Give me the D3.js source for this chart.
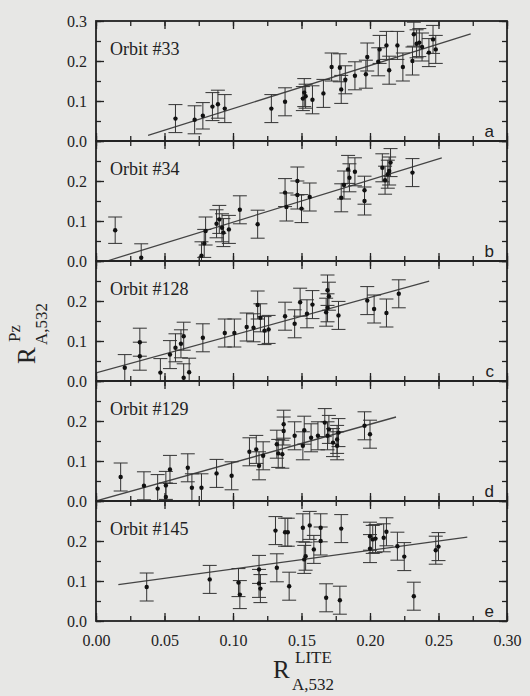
<!DOCTYPE html>
<html>
<head>
<meta charset="utf-8">
<script src="https://cdn.jsdelivr.net/npm/d3@7"></script>
<style>
  body { margin: 0; background: #e7e7e5; }
  svg { display: block; }
</style>
</head>
<body>
<svg id="chart" width="530" height="696"></svg>
<script>
const orbits = ["Orbit #33", "Orbit #34", "Orbit #128", "Orbit #129", "Orbit #145"];
const letters = ["a", "b", "c", "d", "e"];
const xTicks = [0, 0.05, 0.10, 0.15, 0.20, 0.25, 0.30];
const yTicks = [0.0, 0.1, 0.2, 0.3];

// orbit 33
const lite33 = [0.058, 0.072, 0.078, 0.085, 0.089, 0.094, 0.128, 0.138, 0.151, 0.152, 0.153, 0.158, 0.166, 0.172, 0.178, 0.179, 0.182, 0.189, 0.197, 0.198, 0.206, 0.207, 0.212, 0.214, 0.220, 0.224, 0.231, 0.232, 0.234, 0.236, 0.238, 0.243, 0.246, 0.248];
const pz33 = [0.056, 0.053, 0.063, 0.086, 0.092, 0.081, 0.081, 0.098, 0.106, 0.121, 0.112, 0.103, 0.119, 0.185, 0.183, 0.129, 0.153, 0.163, 0.167, 0.210, 0.198, 0.229, 0.239, 0.177, 0.239, 0.185, 0.200, 0.267, 0.243, 0.246, 0.235, 0.221, 0.254, 0.229];
const err33 = [0.035, 0.035, 0.033, 0.035, 0.035, 0.035, 0.035, 0.035, 0.030, 0.035, 0.030, 0.035, 0.035, 0.035, 0.035, 0.035, 0.035, 0.035, 0.035, 0.035, 0.035, 0.035, 0.035, 0.035, 0.035, 0.035, 0.035, 0.030, 0.035, 0.035, 0.035, 0.035, 0.035, 0.035];
const fit33 = [[0.038, 0.014], [0.2735, 0.268]];

// orbit 34
const lite34 = [0.014, 0.033, 0.077, 0.079, 0.080, 0.088, 0.090, 0.092, 0.093, 0.097, 0.105, 0.118, 0.138, 0.139, 0.147, 0.147, 0.150, 0.156, 0.179, 0.181, 0.184, 0.185, 0.189, 0.196, 0.196, 0.209, 0.211, 0.213, 0.214, 0.215, 0.231];
const pz34 = [0.077, 0.008, 0.013, 0.044, 0.075, 0.093, 0.104, 0.083, 0.071, 0.079, 0.128, 0.092, 0.171, 0.135, 0.200, 0.165, 0.131, 0.160, 0.158, 0.190, 0.229, 0.208, 0.223, 0.177, 0.150, 0.233, 0.202, 0.217, 0.225, 0.246, 0.221];
const err34 = [0.033, 0.035, 0.035, 0.035, 0.035, 0.035, 0.035, 0.035, 0.035, 0.035, 0.035, 0.035, 0.035, 0.035, 0.035, 0.035, 0.035, 0.035, 0.035, 0.035, 0.035, 0.035, 0.035, 0.035, 0.035, 0.035, 0.035, 0.035, 0.035, 0.035, 0.035];
const fit34 = [[0.008, 0.0], [0.2524, 0.258]];

// orbit 128
const lite128 = [0.021, 0.032, 0.032, 0.047, 0.054, 0.058, 0.062, 0.064, 0.064, 0.068, 0.078, 0.094, 0.101, 0.110, 0.115, 0.118, 0.120, 0.123, 0.126, 0.138, 0.145, 0.149, 0.154, 0.158, 0.168, 0.169, 0.169, 0.170, 0.177, 0.198, 0.203, 0.212, 0.221];
const pz128 = [0.033, 0.062, 0.097, 0.021, 0.066, 0.083, 0.093, 0.112, 0.008, 0.022, 0.108, 0.120, 0.120, 0.135, 0.133, 0.190, 0.158, 0.126, 0.129, 0.162, 0.143, 0.197, 0.168, 0.191, 0.172, 0.227, 0.183, 0.212, 0.164, 0.201, 0.180, 0.170, 0.218];
const err128 = [0.033, 0.035, 0.035, 0.035, 0.035, 0.035, 0.035, 0.035, 0.035, 0.035, 0.035, 0.035, 0.035, 0.035, 0.035, 0.035, 0.035, 0.035, 0.035, 0.035, 0.035, 0.035, 0.035, 0.035, 0.035, 0.038, 0.035, 0.035, 0.035, 0.035, 0.035, 0.035, 0.035];
const fit128 = [[0.0, 0.0205], [0.2432, 0.2495]];

// orbit 129
const lite129 = [0.018, 0.035, 0.045, 0.051, 0.051, 0.054, 0.067, 0.070, 0.077, 0.088, 0.099, 0.112, 0.117, 0.119, 0.122, 0.132, 0.133, 0.136, 0.137, 0.137, 0.145, 0.151, 0.152, 0.157, 0.162, 0.167, 0.169, 0.170, 0.173, 0.176, 0.177, 0.176, 0.196, 0.200];
const pz129 = [0.060, 0.038, 0.031, 0.039, 0.010, 0.079, 0.083, 0.033, 0.033, 0.069, 0.063, 0.123, 0.129, 0.088, 0.113, 0.142, 0.119, 0.117, 0.175, 0.192, 0.163, 0.138, 0.177, 0.158, 0.163, 0.196, 0.163, 0.179, 0.146, 0.138, 0.171, 0.154, 0.188, 0.167];
const err129 = [0.035, 0.035, 0.035, 0.035, 0.035, 0.035, 0.035, 0.035, 0.035, 0.035, 0.035, 0.035, 0.035, 0.035, 0.035, 0.035, 0.035, 0.035, 0.035, 0.035, 0.035, 0.035, 0.035, 0.035, 0.035, 0.035, 0.035, 0.035, 0.035, 0.035, 0.035, 0.035, 0.035, 0.035];
const fit129 = [[0.0, 0.0], [0.219, 0.21]];

// orbit 145
const lite145 = [0.037, 0.083, 0.104, 0.105, 0.119, 0.119, 0.120, 0.131, 0.132, 0.138, 0.140, 0.141, 0.151, 0.152, 0.153, 0.156, 0.159, 0.164, 0.164, 0.168, 0.179, 0.178, 0.200, 0.200, 0.202, 0.204, 0.210, 0.212, 0.220, 0.225, 0.232, 0.248, 0.250];
const pz145 = [0.085, 0.104, 0.096, 0.066, 0.094, 0.129, 0.081, 0.226, 0.133, 0.222, 0.222, 0.087, 0.233, 0.154, 0.162, 0.239, 0.179, 0.233, 0.200, 0.058, 0.231, 0.052, 0.181, 0.212, 0.204, 0.206, 0.208, 0.223, 0.187, 0.161, 0.062, 0.177, 0.186];
const err145 = [0.035, 0.035, 0.035, 0.035, 0.035, 0.035, 0.035, 0.035, 0.035, 0.035, 0.035, 0.035, 0.035, 0.035, 0.035, 0.035, 0.035, 0.035, 0.035, 0.035, 0.035, 0.035, 0.035, 0.035, 0.035, 0.035, 0.035, 0.035, 0.035, 0.035, 0.035, 0.035, 0.035];
const fit145 = [[0.0163, 0.091], [0.271, 0.2095]];

const liteAll = [lite33, lite34, lite128, lite129, lite145];
const pzAll = [pz33, pz34, pz128, pz129, pz145];
const errAll = [err33, err34, err128, err129, err145];
const fitAll = [fit33, fit34, fit128, fit129, fit145];

const left = 96, right = 507, plotTop = 21, panelHeight = 120;
const serif = "'Liberation Serif', 'Times New Roman', serif";
const sans = "'Liberation Sans', Arial, sans-serif";
const ink = "#222";

const svg = d3.select("#chart");
const x = d3.scaleLinear().domain([0, 0.3]).range([left, right]);
const xMinor = d3.range(0, 0.3001, 0.025);
const yMinor = d3.range(0, 0.3001, 0.05);

function styleTicks(g)
{
  g.select(".domain").remove();
  g.selectAll(".tick line").attr("stroke", ink).attr("stroke-width", 1.3);
  g.selectAll(".tick text").remove();
}

function drawPanel(i)
{
  const y0 = plotTop + i * panelHeight;
  const y = d3.scaleLinear().domain([0, 0.3]).range([y0 + panelHeight, y0]);
  const g = svg.append("g");

  g.append("clipPath").attr("id", "clip" + i)
    .append("rect").attr("x", left).attr("y", y0).attr("width", right - left).attr("height", panelHeight);

  // inward ticks on all four sides
  g.append("g").attr("transform", "translate(0," + y0 + ")")
    .call(d3.axisBottom(x).tickValues(xMinor).tickSize(5)).call(styleTicks);
  g.append("g").attr("transform", "translate(0," + y0 + ")")
    .call(d3.axisBottom(x).tickValues(xTicks).tickSize(8)).call(styleTicks);
  g.append("g").attr("transform", "translate(0," + (y0 + panelHeight) + ")")
    .call(d3.axisTop(x).tickValues(xMinor).tickSize(5)).call(styleTicks);
  g.append("g").attr("transform", "translate(0," + (y0 + panelHeight) + ")")
    .call(d3.axisTop(x).tickValues(xTicks).tickSize(8)).call(styleTicks);
  g.append("g").attr("transform", "translate(" + left + ",0)")
    .call(d3.axisRight(y).tickValues(yMinor).tickSize(5)).call(styleTicks);
  g.append("g").attr("transform", "translate(" + left + ",0)")
    .call(d3.axisRight(y).tickValues(yTicks).tickSize(8)).call(styleTicks);
  g.append("g").attr("transform", "translate(" + right + ",0)")
    .call(d3.axisLeft(y).tickValues(yMinor).tickSize(5)).call(styleTicks);
  g.append("g").attr("transform", "translate(" + right + ",0)")
    .call(d3.axisLeft(y).tickValues(yTicks).tickSize(8)).call(styleTicks);

  // y labels
  const yl = g.append("g").attr("transform", "translate(" + left + ",0)")
    .call(d3.axisLeft(y).tickValues(i === 0 ? yTicks : yTicks.slice(0, 3)).tickSize(0).tickPadding(9).tickFormat(d3.format(".1f")));
  yl.select(".domain").remove();
  yl.selectAll("text").attr("font-family", serif).attr("font-size", 16).attr("fill", ink);

  const plot = g.append("g").attr("clip-path", "url(#clip" + i + ")");
  const pts = liteAll[i].map((v, k) => ({x: v, y: pzAll[i][k], e: errAll[i][k]}));

  plot.append("path")
    .datum(fitAll[i])
    .attr("d", d3.line().x(d => x(d[0])).y(d => y(d[1])))
    .attr("fill", "none").attr("stroke", "#444").attr("stroke-width", 1.3);

  const bars = plot.selectAll(".bar").data(pts).enter().append("g").attr("class", "bar")
    .attr("stroke", "#333").attr("stroke-width", 1);
  bars.append("line")
    .attr("x1", d => x(d.x)).attr("x2", d => x(d.x))
    .attr("y1", d => y(d.y - d.e)).attr("y2", d => y(d.y + d.e));
  bars.append("line")
    .attr("x1", d => x(d.x) - 7).attr("x2", d => x(d.x) + 7)
    .attr("y1", d => y(d.y + d.e)).attr("y2", d => y(d.y + d.e));
  bars.append("line")
    .attr("x1", d => x(d.x) - 7).attr("x2", d => x(d.x) + 7)
    .attr("y1", d => y(d.y - d.e)).attr("y2", d => y(d.y - d.e));

  plot.selectAll(".dot").data(pts).enter().append("circle").attr("class", "dot")
    .attr("cx", d => x(d.x)).attr("cy", d => y(d.y)).attr("r", 2.2).attr("fill", "#111");

  g.append("rect")
    .attr("x", left).attr("y", y0).attr("width", right - left).attr("height", panelHeight)
    .attr("fill", "none").attr("stroke", ink).attr("stroke-width", 1.8);

  g.append("text").attr("x", 110).attr("y", y0 + 34)
    .attr("font-family", serif).attr("font-size", 18).attr("fill", ink)
    .text(orbits[i]);
  g.append("text").attr("x", 494).attr("y", y0 + panelHeight - 4)
    .attr("text-anchor", "end")
    .attr("font-family", sans).attr("font-size", 17).attr("fill", ink)
    .text(letters[i]);
}

for (let i = 0; i < orbits.length; i++)
{
  drawPanel(i);
}

// x tick labels under the last panel
const plotBottom = plotTop + orbits.length * panelHeight;
const xl = svg.append("g").attr("transform", "translate(0," + plotBottom + ")")
  .call(d3.axisBottom(x).tickValues(xTicks).tickSize(0).tickPadding(14).tickFormat(d3.format(".2f")));
xl.select(".domain").remove();
xl.selectAll("text").attr("font-family", serif).attr("font-size", 16).attr("fill", ink);

function axisTitle(g, sup, sub)
{
  g.append("text").attr("x", 0).attr("y", 0)
    .attr("font-family", serif).attr("font-size", 25).attr("fill", ink).text("R");
  g.append("text").attr("x", 22).attr("y", -15)
    .attr("font-family", serif).attr("font-size", 17).attr("fill", ink).text(sup);
  g.append("text").attr("x", 19).attr("y", 12)
    .attr("font-family", serif).attr("font-size", 17).attr("fill", ink).text(sub);
}

axisTitle(svg.append("g").attr("transform", "translate(273,678)"), "LITE", "A,532");
axisTitle(svg.append("g").attr("transform", "translate(35,364) rotate(-90)"), "Pz", "A,532");
</script>
</body>
</html>
